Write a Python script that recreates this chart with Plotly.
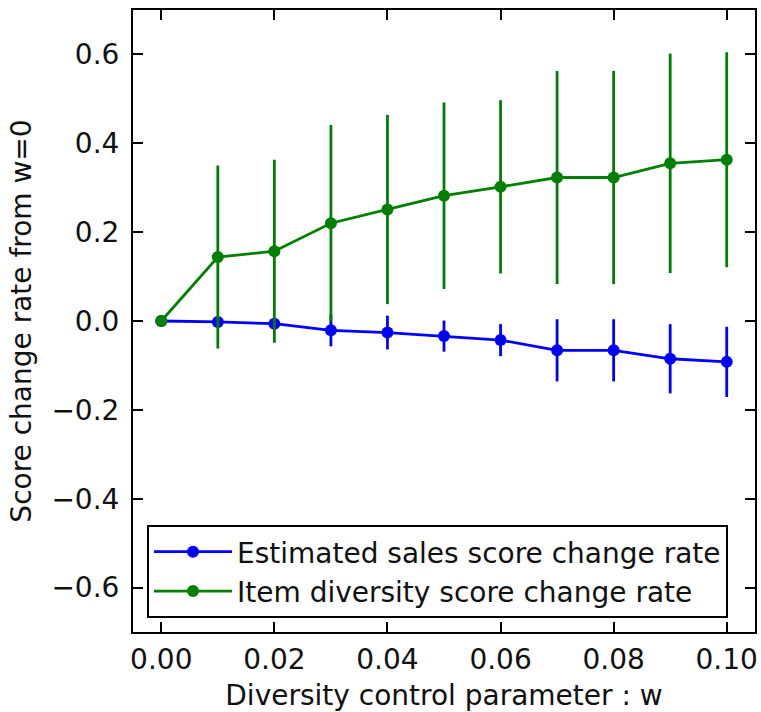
import plotly.graph_objects as go

w = [0.00, 0.01, 0.02, 0.03, 0.04, 0.05, 0.06, 0.07, 0.08, 0.09, 0.10]
sales_rate = [0.0, -0.002, -0.006, -0.021, -0.026, -0.034, -0.043, -0.066, -0.066, -0.085, -0.092]
sales_err = [0.0, 0.004, 0.008, 0.036, 0.038, 0.035, 0.036, 0.070, 0.070, 0.078, 0.079]
div_rate = [0.0, 0.144, 0.157, 0.220, 0.251, 0.282, 0.302, 0.323, 0.323, 0.355, 0.363]
div_err = [0.0, 0.206, 0.206, 0.221, 0.213, 0.210, 0.195, 0.240, 0.240, 0.247, 0.242]

x_ticks = [0.00, 0.02, 0.04, 0.06, 0.08, 0.10]
y_ticks = [-0.6, -0.4, -0.2, 0.0, 0.2, 0.4, 0.6]

FONT = "DejaVu Sans"
FS = 28
TXT = "#111111"

fig = go.Figure()
fig.add_trace(go.Scatter(
    x=w, y=sales_rate, mode="lines+markers",
    name="Estimated sales score change rate",
    line=dict(color="#0000ff", width=2.8),
    marker=dict(color="#0000ff", size=12, symbol="circle"),
    error_y=dict(type="data", array=sales_err, visible=True, color="#0000ff", thickness=2.8, width=0),
))
fig.add_trace(go.Scatter(
    x=w, y=div_rate, mode="lines+markers",
    name="Item diversity score change rate",
    line=dict(color="#008000", width=2.8),
    marker=dict(color="#008000", size=12, symbol="circle"),
    error_y=dict(type="data", array=div_err, visible=True, color="#008000", thickness=2.8, width=0),
))

axis_common = dict(
    showgrid=False, zeroline=False, showline=True, linecolor="black", linewidth=2,
    mirror="ticks", ticks="inside", ticklen=10, tickwidth=1.5, tickcolor="black",
    tickfont=dict(family=FONT, size=FS, color=TXT),
    automargin=False,
)

fig.update_xaxes(
    range=[-0.005, 0.105], tickvals=x_ticks, tickformat=".2f",
    title=dict(text="Diversity control parameter : w", font=dict(family=FONT, size=FS, color=TXT), standoff=12),
    ticklabelstandoff=1,
    **axis_common,
)
fig.update_yaxes(
    range=[-0.7, 0.7], tickvals=y_ticks, tickformat=".1f",
    title=dict(text="Score change rate from w=0", font=dict(family=FONT, size=FS, color=TXT), standoff=12),
    ticklabelstandoff=6,
    **axis_common,
)

fig.update_layout(
    width=761, height=712,
    margin=dict(l=133, r=6, t=10, b=80),
    plot_bgcolor="white", paper_bgcolor="white",
    font=dict(family=FONT, size=FS, color=TXT),
    showlegend=True,
    legend=dict(
        x=0.0225, y=0.0225, xanchor="left", yanchor="bottom",
        bordercolor="black", borderwidth=2, bgcolor="white",
        itemwidth=78, tracegroupgap=0,
        font=dict(family=FONT, size=FS, color=TXT),
    ),
)

fig.write_html(
    "out.html",
    config={"displayModeBar": False},
    post_script="document.body.style.margin='0';document.body.style.overflow='hidden';",
)
